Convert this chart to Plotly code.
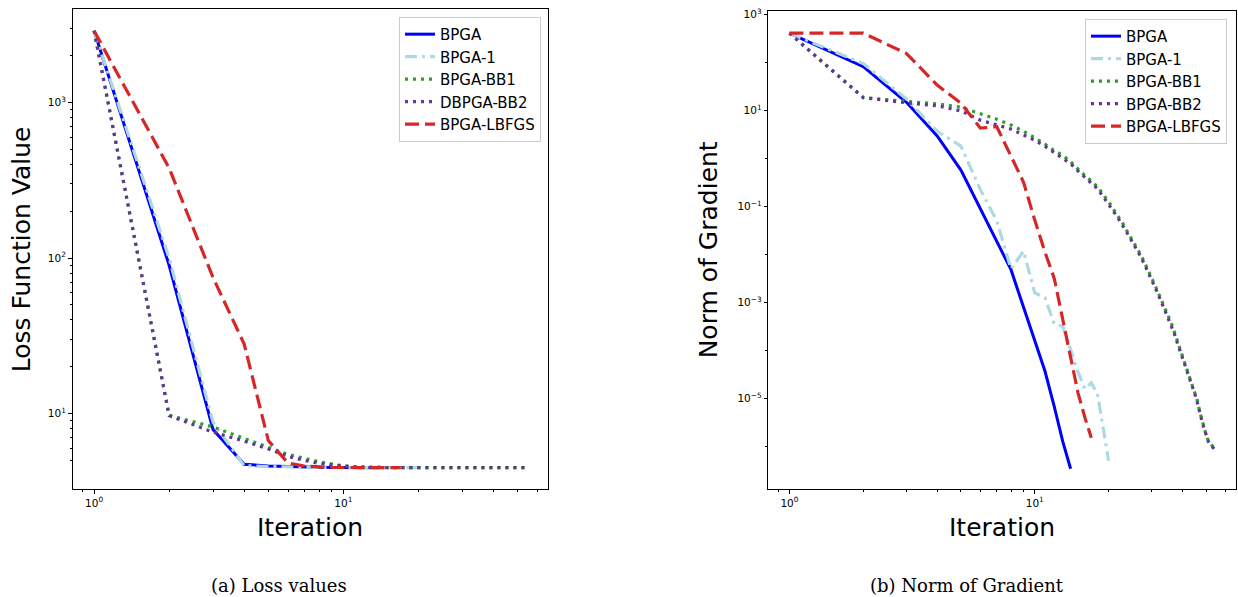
import plotly.graph_objects as go

# ---------------- data ----------------
series_names_left = ["BPGA", "BPGA-1", "BPGA-BB1", "DBPGA-BB2", "BPGA-LBFGS"]
series_names_right = ["BPGA", "BPGA-1", "BPGA-BB1", "BPGA-BB2", "BPGA-LBFGS"]

# (a) loss function values per iteration
loss_bpga = [2900, 90, 7.9, 4.72, 4.6, 4.55, 4.52, 4.51, 4.5, 4.5, 4.49, 4.49, 4.49, 4.49]
loss_bpga1 = [2900, 100, 8.8, 4.62, 4.56, 4.53, 4.51, 4.5, 4.5, 4.49,
              4.49, 4.49, 4.49, 4.49, 4.49, 4.49, 4.49, 4.49, 4.49, 4.49]
loss_bb1 = [2900, 9.75, 8.2, 6.95, 6.1, 5.46, 5.15, 4.89, 4.74, 4.6,
            4.55, 4.52, 4.5, 4.5, 4.49, 4.49, 4.49, 4.49, 4.49, 4.49,
            4.49, 4.49, 4.49, 4.49, 4.49, 4.49, 4.49, 4.49, 4.49, 4.49,
            4.49, 4.49, 4.49, 4.49, 4.49, 4.49, 4.49, 4.49, 4.49, 4.49,
            4.49, 4.49, 4.49, 4.49, 4.49, 4.49, 4.49, 4.49, 4.49, 4.49,
            4.49, 4.49, 4.49, 4.49]
loss_bb2 = [2900, 9.7, 7.6, 6.65, 5.92, 5.3, 4.99, 4.78, 4.68, 4.59,
            4.55, 4.52, 4.5, 4.5, 4.49, 4.49, 4.49, 4.49, 4.49, 4.49,
            4.49, 4.49, 4.49, 4.49, 4.49, 4.49, 4.49, 4.49, 4.49, 4.49,
            4.49, 4.49, 4.49, 4.49, 4.49, 4.49, 4.49, 4.49, 4.49, 4.49,
            4.49, 4.49, 4.49, 4.49, 4.49, 4.49, 4.49, 4.49, 4.49, 4.49,
            4.49, 4.49, 4.49, 4.49]
loss_lbfgs = [2900, 380, 75, 28, 6.7, 4.8, 4.6, 4.52, 4.5, 4.5,
              4.49, 4.49, 4.49, 4.49, 4.49, 4.49, 4.49]

# (b) norm of gradient per iteration
grad_bpga = [410, 82, 14.8, 2.95, 0.575, 0.091, 0.018, 4.8e-3, 7.9e-4, 1.6e-4,
             3.7e-5, 6.8e-6, 1.26e-6, 3.4e-7]
grad_bpga1 = [410, 95.5, 17.4, 3.7, 1.82, 0.224, 0.05, 5.0e-3, 1.17e-2, 1.58e-3,
              1.26e-3, 3.55e-4, 3.16e-4, 1.0e-4, 3.55e-5, 1.58e-5, 2.1e-5, 1.26e-5, 2.5e-6, 5.0e-7]
grad_bb1 = [410, 18.6, 15.5, 13.8, 11.7, 8.5, 6.6, 5.0, 3.7, 2.7,
            2.0, 1.45, 1.17, 0.85, 0.60, 0.44, 0.34, 0.26, 0.178, 0.126,
            0.085, 0.059, 0.042, 0.028, 0.020, 0.014, 0.010, 6.8e-3, 4.7e-3, 3.2e-3,
            2.2e-3, 1.5e-3, 1.05e-3, 7.4e-4, 5.2e-4, 3.7e-4, 2.5e-4, 1.66e-4, 1.12e-4, 7.9e-5,
            5.6e-5, 3.8e-5, 2.6e-5, 1.9e-5, 1.32e-5, 8.9e-6, 5.4e-6, 3.6e-6, 2.5e-6, 1.7e-6,
            1.3e-6, 1.12e-6, 1.0e-6, 8.9e-7]
grad_bb2 = [410, 18.6, 14.5, 12.6, 9.8, 6.3, 5.0, 4.1, 3.1, 2.4,
            1.8, 1.33, 1.05, 0.78, 0.55, 0.40, 0.31, 0.235, 0.16, 0.113,
            0.077, 0.054, 0.038, 0.026, 0.018, 0.0128, 9.1e-3, 6.2e-3, 4.3e-3, 2.9e-3,
            2.0e-3, 1.38e-3, 9.5e-4, 6.8e-4, 4.8e-4, 3.4e-4, 2.3e-4, 1.5e-4, 1.02e-4, 7.2e-5,
            5.1e-5, 3.5e-5, 2.4e-5, 1.74e-5, 1.2e-5, 8.1e-6, 5.0e-6, 3.4e-6, 2.35e-6, 1.62e-6,
            1.25e-6, 1.07e-6, 9.6e-7, 8.7e-7]
grad_lbfgs = [410, 410, 154, 34, 14.2, 4.3, 4.6, 1.12, 0.32, 0.052,
              0.0112, 3.2e-3, 4.4e-4, 6.9e-5, 1.3e-5, 4.0e-6, 1.5e-6]

x_tickvals = [1, 10]
x_ticktext = ["10<sup>0</sup>", "10<sup>1</sup>"]
x_minor = [0.9, 2, 3, 4, 5, 6, 7, 8, 9, 20, 30, 40, 50, 60]
yl_tickvals = [10, 100, 1000]
yl_ticktext = ["10<sup>1</sup>", "10<sup>2</sup>", "10<sup>3</sup>"]
yl_minor = [5, 6, 7, 8, 9, 20, 30, 40, 50, 60, 70, 80, 90,
            200, 300, 400, 500, 600, 700, 800, 900, 2000, 3000]
yr_tickvals = [1e-5, 1e-3, 1e-1, 10, 1000]
yr_ticktext = ["10<sup>\u22125</sup>", "10<sup>\u22123</sup>", "10<sup>\u22121</sup>",
               "10<sup>1</sup>", "10<sup>3</sup>"]
yr_minor = [1e-6, 1e-4, 1e-2, 1, 100]

# ---------------- styles ----------------
W, H = 1238, 597
styles = [
    dict(color="#0000ff", width=3, dash="solid"),
    dict(color="#add8e6", width=3.2, dash="12px,5px,3px,5px"),
    dict(color="#2ca02c", width=3.2, dash="3px,5px"),
    dict(color="#663399", width=3.2, dash="3px,5px"),
    dict(color="#d62728", width=3.2, dash="14px,6px"),
]

left_data = [loss_bpga, loss_bpga1, loss_bb1, loss_bb2, loss_lbfgs]
right_data = [grad_bpga, grad_bpga1, grad_bb1, grad_bb2, grad_lbfgs]

fig = go.Figure()
for name, vals, st in zip(series_names_left, left_data, styles):
    fig.add_trace(go.Scatter(x=list(range(1, len(vals) + 1)), y=vals, mode="lines",
                             name=name, line=st, xaxis="x", yaxis="y", legend="legend"))
for name, vals, st in zip(series_names_right, right_data, styles):
    fig.add_trace(go.Scatter(x=list(range(1, len(vals) + 1)), y=vals, mode="lines",
                             name=name, line=st, xaxis="x2", yaxis="y2", legend="legend2"))

def px_x(p):
    return p / W

def px_y(p):
    return 1 - p / H

tickfont = dict(family="DejaVu Sans", size=10.5, color="black")
common = dict(type="log", showgrid=False, zeroline=False, showline=True, mirror=True,
              linecolor="black", linewidth=1, ticks="outside", ticklen=3.5, tickwidth=0.8,
              tickcolor="black", tickfont=tickfont)
minor_common = dict(ticks="outside", ticklen=2, tickwidth=0.6, tickcolor="black", showgrid=False)

xr = [-0.0866, 1.819]
fig.update_layout(
    xaxis=dict(domain=[px_x(72.5), px_x(547.5)], anchor="y", range=xr,
               tickmode="array", tickvals=x_tickvals, ticktext=x_ticktext,
               minor=dict(tickvals=x_minor, **minor_common), **common),
    yaxis=dict(domain=[px_y(488.7), px_y(5)], anchor="x", range=[0.512, 3.603],
               tickmode="array", tickvals=yl_tickvals, ticktext=yl_ticktext,
               minor=dict(tickvals=yl_minor, **minor_common), **common),
    xaxis2=dict(domain=[px_x(768.2), px_x(1235.7)], anchor="y2", range=xr,
                tickmode="array", tickvals=x_tickvals, ticktext=x_ticktext,
                minor=dict(tickvals=x_minor, **minor_common), **common),
    yaxis2=dict(domain=[px_y(488.7), px_y(7.3)], anchor="x2", range=[-6.9, 3.07],
                tickmode="array", tickvals=yr_tickvals, ticktext=yr_ticktext,
                minor=dict(tickvals=yr_minor, **minor_common), **common),
)

legend_common = dict(bgcolor="rgba(255,255,255,0.85)", bordercolor="#cccccc", borderwidth=1,
                     font=dict(family="DejaVu Sans", size=15, color="black"),
                     xanchor="right", yanchor="top", tracegroupgap=0,
                     xref="paper", yref="paper")
fig.update_layout(
    legend=dict(x=px_x(541), y=px_y(13), **legend_common),
    legend2=dict(x=px_x(1227), y=px_y(15), **legend_common),
)

title_font = dict(family="DejaVu Sans", size=25, color="black")
cap_font = dict(family="DejaVu Serif", size=18, color="black")
annots = [
    dict(text="Loss Function Value", x=px_x(21), y=px_y(247), textangle=-90, font=title_font),
    dict(text="Iteration", x=px_x(310), y=px_y(527), font=title_font),
    dict(text="Norm of Gradient", x=px_x(708), y=px_y(248), textangle=-90, font=title_font),
    dict(text="Iteration", x=px_x(1002), y=px_y(527), font=title_font),
    dict(text="(a) Loss values", x=px_x(279), y=px_y(585), font=cap_font),
    dict(text="(b) Norm of Gradient", x=px_x(967), y=px_y(585), font=cap_font),
]
for a in annots:
    fig.add_annotation(xref="paper", yref="paper", showarrow=False,
                       xanchor="center", yanchor="middle", **a)

fig.update_layout(width=W, height=H, autosize=False,
                  margin=dict(l=0, r=0, t=0, b=0),
                  paper_bgcolor="white", plot_bgcolor="white",
                  showlegend=True)

fig.write_html("out.html", config={"displayModeBar": False},
               post_script="document.body.style.margin='0';document.body.style.overflow='hidden';")
